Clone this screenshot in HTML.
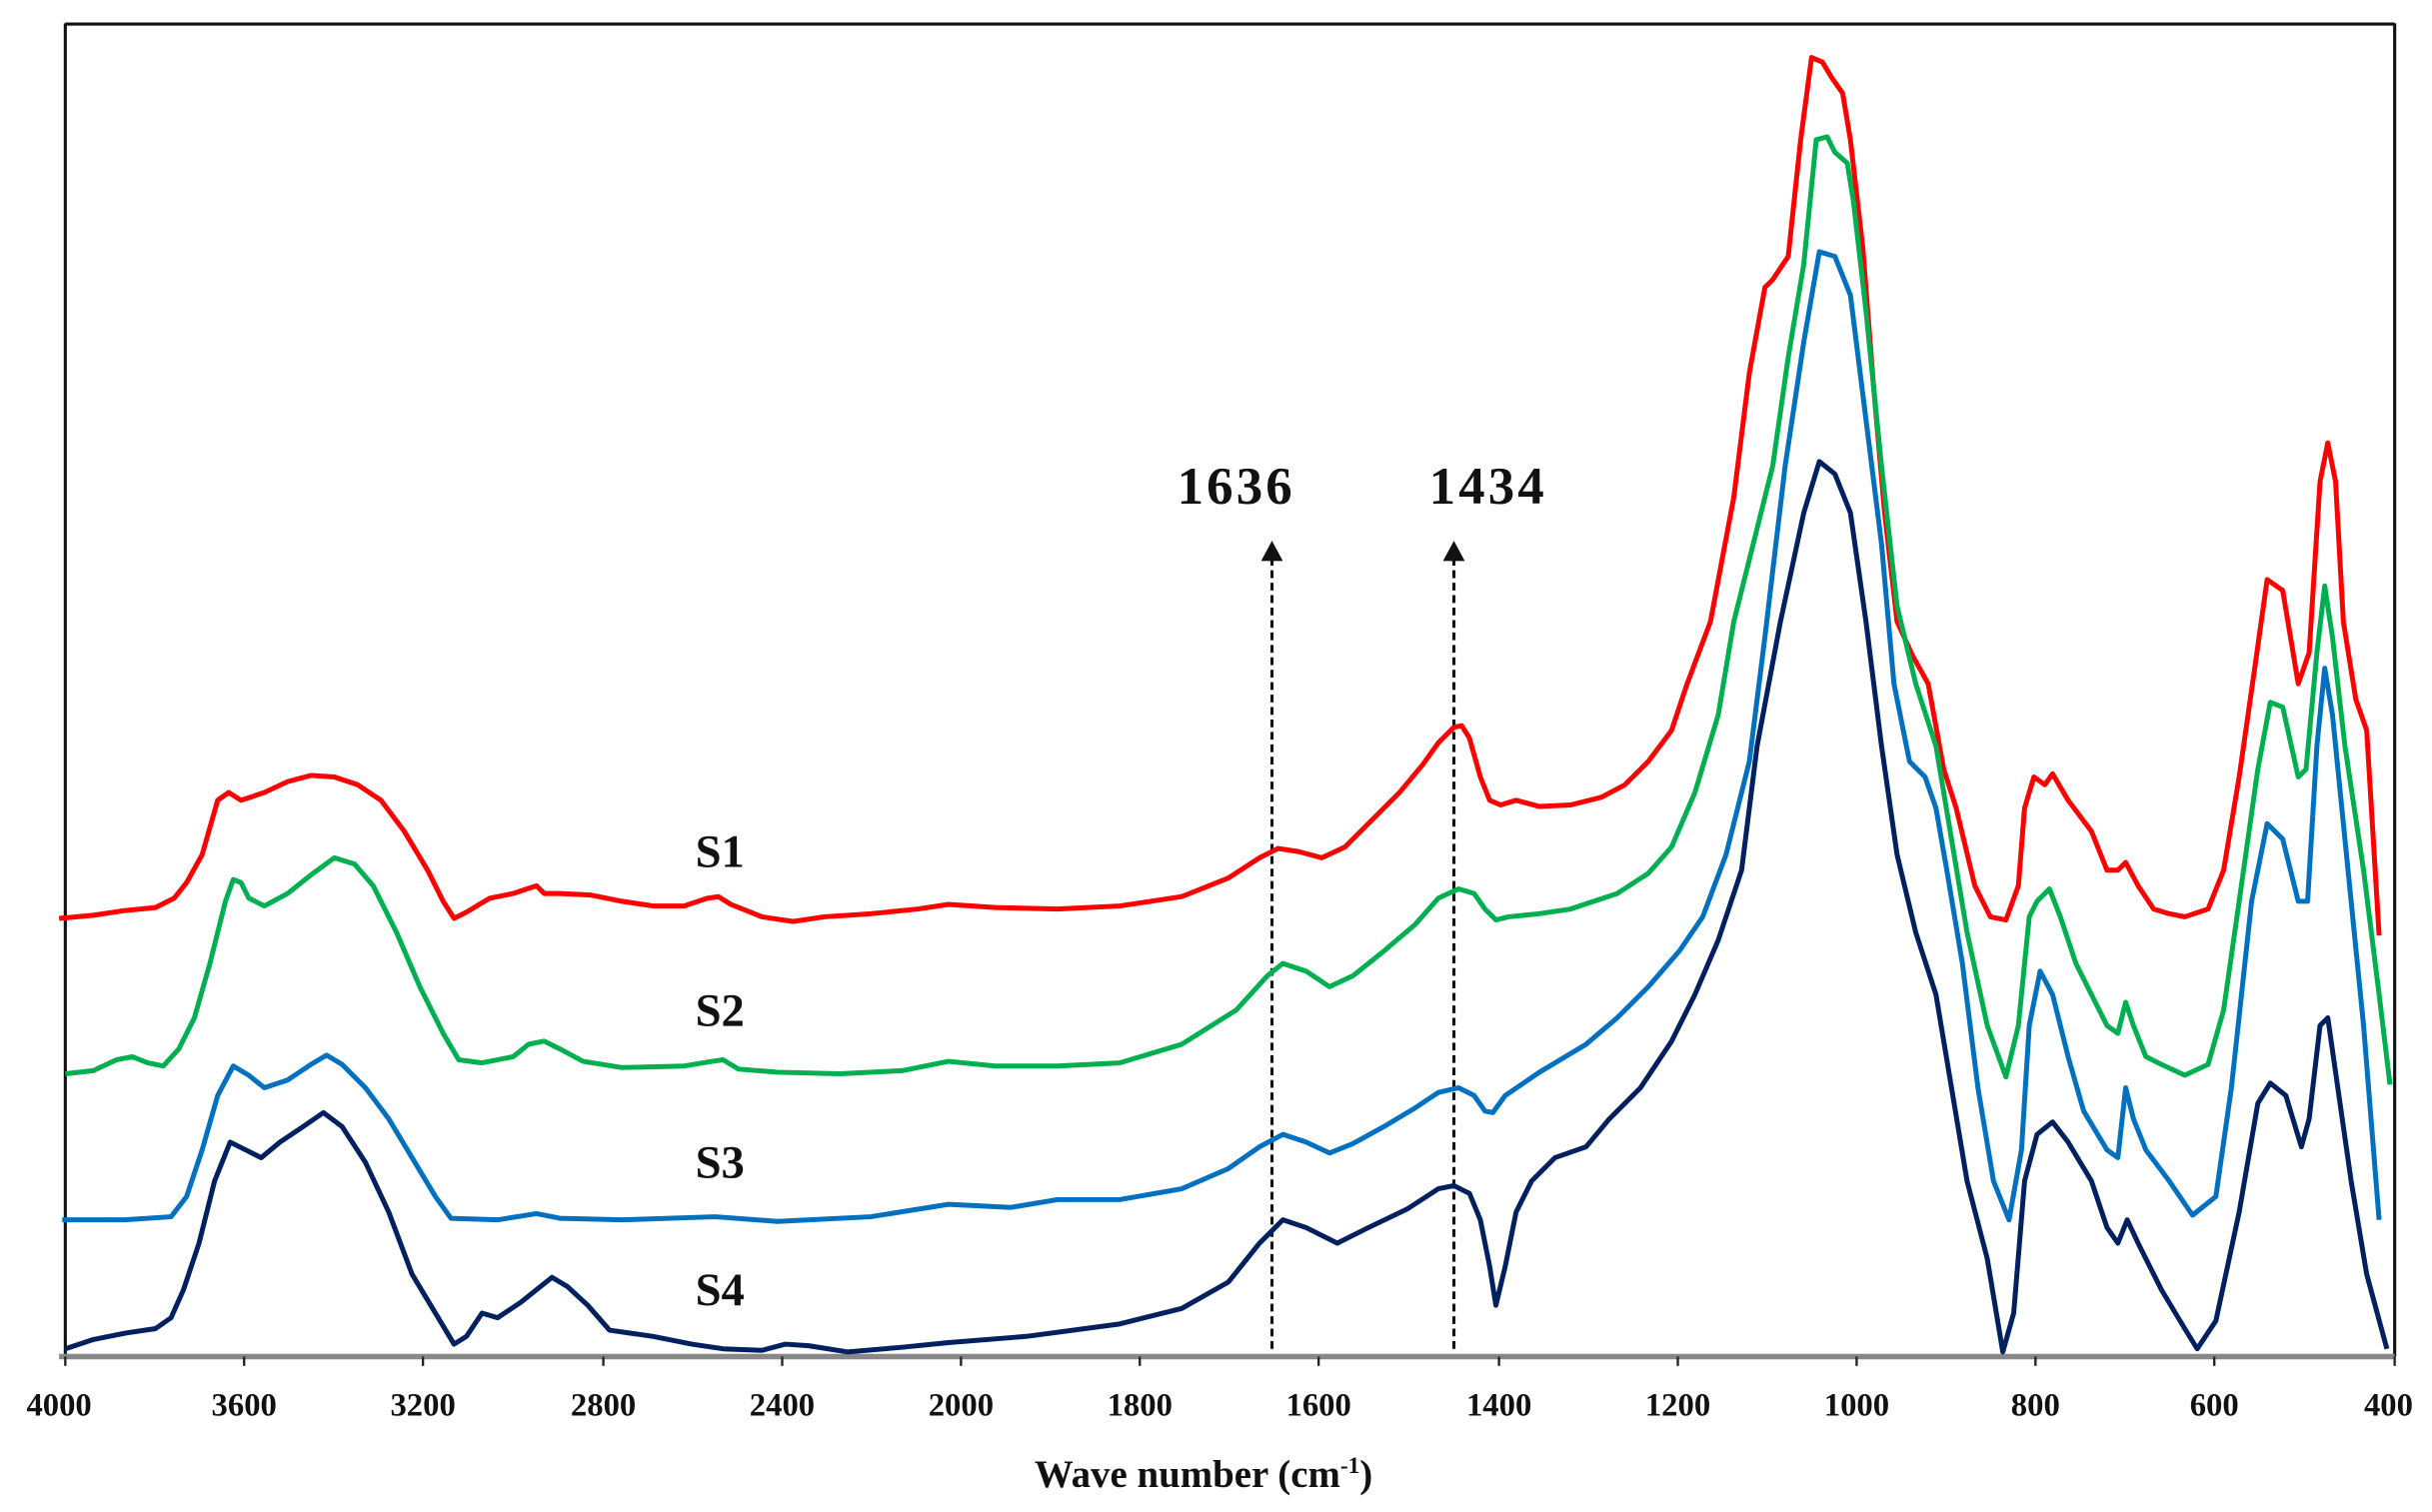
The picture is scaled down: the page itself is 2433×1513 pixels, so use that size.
<!DOCTYPE html>
<html><head><meta charset="utf-8"><style>html,body{margin:0;padding:0;background:#fff}svg{display:block}</style></head>
<body>
<svg width="2433" height="1513" viewBox="0 0 1564 973" preserveAspectRatio="none" xmlns="http://www.w3.org/2000/svg">
<rect width="1564" height="973" fill="#fff"/>
<line x1="42" y1="15.5" x2="1540" y2="15.5" stroke="#111" stroke-width="2"/>
<line x1="1540" y1="15" x2="1540" y2="873" stroke="#111" stroke-width="2"/>
<line x1="42" y1="15" x2="42" y2="873" stroke="#111" stroke-width="2"/>
<line x1="38" y1="873" x2="1540" y2="873" stroke="#888" stroke-width="3.5"/>
<g stroke="#222" stroke-width="1.5">
<line x1="42" y1="873" x2="42" y2="879"/><line x1="157" y1="873" x2="157" y2="879"/><line x1="272" y1="873" x2="272" y2="879"/><line x1="388" y1="873" x2="388" y2="879"/><line x1="503" y1="873" x2="503" y2="879"/><line x1="618" y1="873" x2="618" y2="879"/><line x1="733" y1="873" x2="733" y2="879"/><line x1="848" y1="873" x2="848" y2="879"/><line x1="964" y1="873" x2="964" y2="879"/><line x1="1079" y1="873" x2="1079" y2="879"/><line x1="1194" y1="873" x2="1194" y2="879"/><line x1="1309" y1="873" x2="1309" y2="879"/><line x1="1424" y1="873" x2="1424" y2="879"/><line x1="1540" y1="873" x2="1540" y2="879"/>
</g>
<g font-family="Liberation Serif, serif" font-weight="bold" font-size="21" text-anchor="middle" fill="#111">
<text x="38" y="911">4000</text><text x="157" y="911">3600</text><text x="272" y="911">3200</text><text x="388" y="911">2800</text><text x="503" y="911">2400</text><text x="618" y="911">2000</text><text x="733" y="911">1800</text><text x="848" y="911">1600</text><text x="964" y="911">1400</text><text x="1079" y="911">1200</text><text x="1194" y="911">1000</text><text x="1309" y="911">800</text><text x="1424" y="911">600</text><text x="1536" y="911">400</text>
<text x="774" y="957" font-size="25">Wave number (cm<tspan font-size="15" dy="-9">-1</tspan><tspan dy="9">)</tspan></text>
<text x="463" y="558" font-size="30">S1</text><text x="463" y="660" font-size="30">S2</text><text x="463" y="758" font-size="30">S3</text><text x="463" y="840" font-size="30">S4</text>
<text x="795" y="324" font-size="34" letter-spacing="2">1636</text><text x="957" y="324" font-size="34" letter-spacing="2">1434</text>
</g>
<g stroke="#111" stroke-width="2" stroke-dasharray="5,3"><line x1="818" y1="868" x2="818" y2="360"/><line x1="935" y1="868" x2="935" y2="360"/></g>
<polygon points="818,348 811,361 825,361" fill="#111"/><polygon points="935,348 928,361 942,361" fill="#111"/>
<g fill="none" stroke-width="3.2" stroke-linejoin="round">
<polyline stroke="#ff0000" points="38,591 60,589 80,586 100,584 112,578 120,568 130,550 140,515 147,510 155,515 170,510 185,503 200,499 215,500 230,505 245,515 260,535 275,560 285,580 292,591 300,587 315,578 330,575 345,570 350,575 360,575 380,576 400,580 420,583 440,583 455,578 462,577 470,582 490,590 510,593 530,590 560,588 590,585 610,582 640,584 680,585 720,583 760,577 790,565 810,552 822,546 835,548 850,552 865,545 880,530 900,510 915,492 925,478 935,468 940,467 945,475 952,500 958,515 965,518 975,515 990,519 1010,518 1030,513 1045,505 1060,490 1075,470 1085,440 1100,400 1115,320 1125,240 1135,185 1140,180 1150,165 1158,90 1165,37 1172,40 1178,50 1185,60 1190,90 1198,160 1205,250 1212,330 1220,400 1230,422 1240,440 1250,495 1258,520 1270,570 1280,590 1290,592 1298,570 1302,520 1308,500 1315,505 1320,498 1330,515 1345,535 1355,560 1362,560 1367,555 1375,570 1385,585 1395,588 1405,590 1420,585 1430,560 1440,500 1450,430 1458,373 1468,380 1478,440 1485,420 1492,310 1497,285 1502,310 1507,400 1515,450 1522,470 1530,602"/>
<polyline stroke="#00b050" points="42,691 60,689 75,682 85,680 95,684 105,686 115,675 125,655 135,620 145,580 150,566 155,568 160,578 170,583 185,575 200,563 215,552 228,556 240,570 255,600 270,635 285,665 295,682 310,684 330,680 340,672 350,670 360,675 375,683 400,687 440,686 458,683 465,682 475,688 500,690 540,691 580,689 610,683 640,686 680,686 720,684 760,672 795,650 815,628 825,620 840,625 855,635 870,628 890,612 910,595 925,578 938,572 948,575 955,585 962,592 970,590 990,588 1010,585 1040,575 1060,562 1075,545 1090,510 1105,460 1115,400 1130,340 1140,300 1150,230 1160,170 1168,90 1175,88 1180,98 1188,105 1192,130 1200,200 1210,300 1220,390 1232,440 1245,480 1255,540 1265,600 1278,660 1290,693 1298,660 1305,590 1310,580 1318,572 1325,590 1335,620 1345,640 1355,660 1362,665 1367,645 1372,660 1380,680 1390,685 1405,692 1420,685 1430,650 1440,580 1452,495 1460,452 1468,455 1478,500 1483,495 1490,420 1495,377 1500,410 1508,480 1520,560 1530,640 1537,698"/>
<polyline stroke="#0070c0" points="40,785 80,785 110,783 120,770 130,740 140,705 150,686 160,692 170,700 185,695 200,685 210,679 220,685 235,700 250,720 265,745 280,770 290,784 320,785 345,781 360,784 400,785 460,783 500,786 560,783 610,775 650,777 680,772 720,772 760,765 790,752 810,738 825,730 840,735 855,742 870,736 890,725 910,713 925,703 938,700 948,705 955,715 960,716 968,705 990,690 1020,672 1040,655 1060,635 1080,612 1095,590 1110,550 1125,490 1135,410 1148,300 1160,220 1170,162 1180,165 1190,190 1200,270 1210,350 1218,440 1228,490 1238,500 1245,520 1252,560 1262,620 1272,700 1282,760 1292,785 1300,740 1305,660 1312,625 1320,640 1330,680 1340,715 1355,740 1362,745 1367,700 1372,720 1380,740 1395,760 1410,782 1425,770 1435,700 1448,580 1458,530 1468,540 1478,580 1484,580 1490,480 1495,430 1500,460 1510,560 1520,660 1530,785"/>
<polyline stroke="#002060" points="42,868 60,862 80,858 100,855 110,848 118,830 128,800 138,760 148,735 158,740 168,745 180,735 195,725 208,716 220,725 235,748 250,780 265,820 280,845 292,865 300,860 310,845 320,848 335,838 355,822 365,828 378,840 392,856 420,860 445,865 465,868 490,869 505,865 520,866 545,870 580,867 610,864 660,860 720,852 760,842 790,825 810,800 825,785 840,790 860,800 880,790 905,778 925,765 935,763 945,768 952,785 958,815 962,840 968,815 975,780 985,760 1000,745 1020,738 1035,720 1055,700 1075,670 1090,640 1105,605 1120,560 1130,480 1145,400 1160,330 1170,297 1180,305 1190,330 1200,400 1210,480 1220,550 1232,600 1245,640 1255,700 1265,760 1278,810 1288,870 1295,845 1302,760 1310,730 1320,722 1330,735 1345,760 1355,790 1362,800 1368,785 1375,800 1390,830 1405,855 1413,868 1425,850 1440,780 1452,710 1460,697 1470,705 1480,738 1485,720 1492,660 1497,655 1502,690 1512,760 1522,820 1535,868"/>
</g>
</svg>
</body></html>
